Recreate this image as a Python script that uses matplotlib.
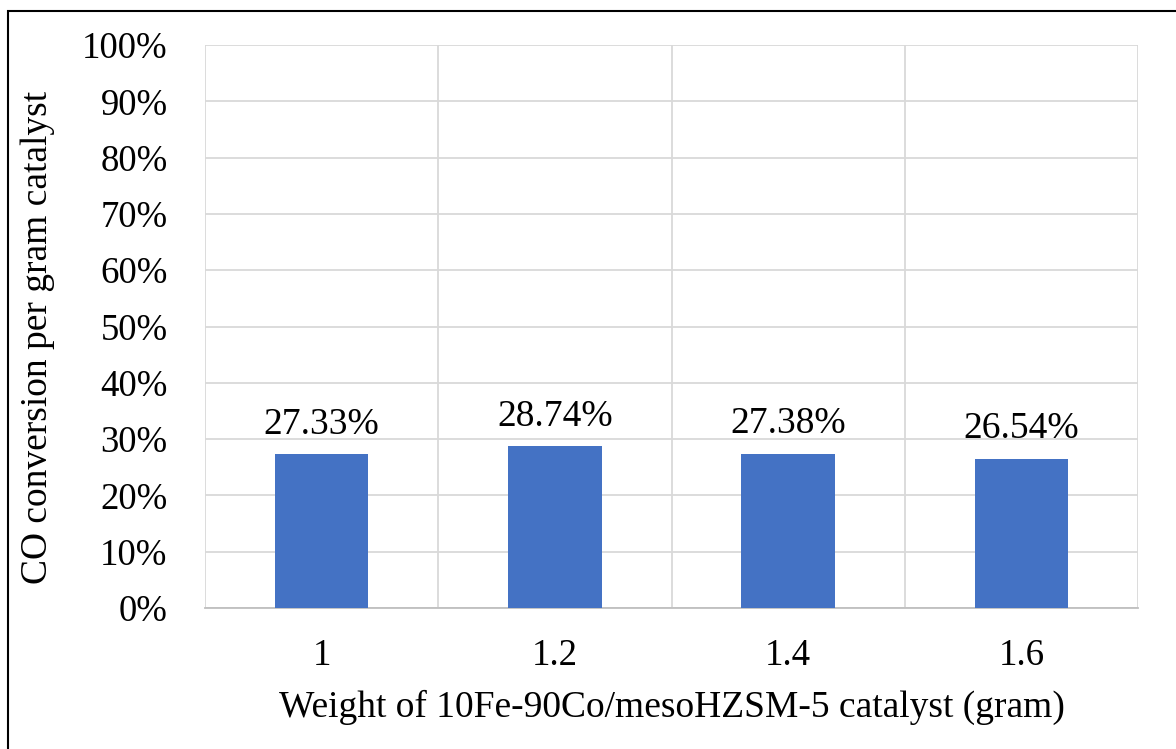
import matplotlib.pyplot as plt
from matplotlib.patches import Rectangle
from matplotlib.ticker import PercentFormatter, FixedLocator

# catalyst weight (gram) and CO conversion per gram catalyst (%)
weights = ["1", "1.2", "1.4", "1.6"]
conversion = [27.33, 28.74, 27.38, 26.54]

plt.rcParams['font.family'] = ['Liberation Serif', 'DejaVu Serif']

W, H = 1176, 749
fig = plt.figure(figsize=(W / 100, H / 100), dpi=100)
ax = fig.add_axes([205 / W, 1 - 608 / H, (1138 - 205) / W, (608 - 45) / H])

x = range(len(weights))
bars = ax.bar(x, conversion, width=0.4, color="#4472C4", zorder=3)

ax.set_xlim(-0.5, len(weights) - 0.5)
ax.set_ylim(0, 100)
ax.set_yticks(range(0, 101, 10))
ax.yaxis.set_major_formatter(PercentFormatter(decimals=0))
ax.set_xticks(list(x))
ax.set_xticklabels(weights)

# vertical gridlines sit between the categories, like Excel
ax.xaxis.set_minor_locator(FixedLocator([i - 0.5 for i in range(len(weights) + 1)]))
ax.grid(axis="y", which="major", color="#D9D9D9", linewidth=1.3, zorder=0)
ax.grid(axis="x", which="minor", color="#D9D9D9", linewidth=1.3, zorder=0)
ax.grid(axis="x", which="major", visible=False)

for s in ["top", "right", "left"]:
    ax.spines[s].set_visible(False)
ax.spines["bottom"].set_color("#BFBFBF")
ax.spines["bottom"].set_linewidth(1.3)
ax.tick_params(axis="both", which="both", length=0, labelsize=26.5)
ax.tick_params(axis="y", pad=27)
ax.tick_params(axis="x", pad=22)

for b, v in zip(bars, conversion):
    ax.annotate(f"{v:.2f}%", (b.get_x() + b.get_width() / 2, v),
                xytext=(0, 9), textcoords="offset points",
                ha="center", va="bottom", fontsize=27)

ax.set_xlabel("Weight of 10Fe-90Co/mesoHZSM-5 catalyst (gram)", fontsize=27, labelpad=12)
ax.set_ylabel("CO conversion per gram catalyst", fontsize=27, labelpad=19)
ax.yaxis.label.set_y(0.48)

# black frame around the whole chart
fig.patches.append(Rectangle((8 / W, -0.01), 1.0, 1 - 11 / H + 0.01,
                             transform=fig.transFigure, fill=False,
                             edgecolor="black", linewidth=1.5))

fig.savefig("out.png", dpi=100)
